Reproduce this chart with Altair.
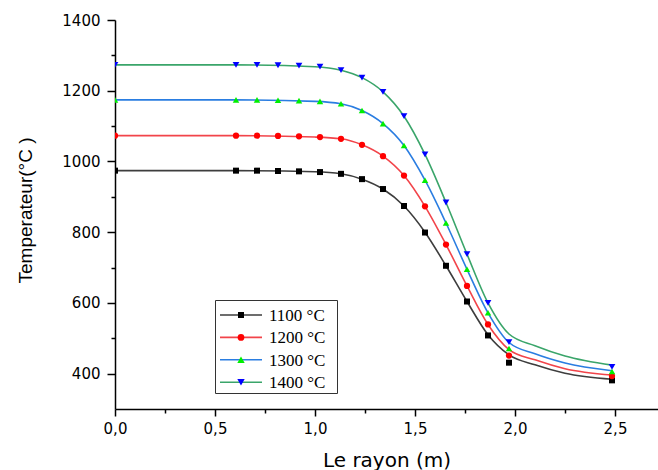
import altair as alt
import pandas as pd

# ---------------- data ----------------
series = ["1100 °C", "1200 °C", "1300 °C", "1400 °C"]
line_colors = ["#3d3d3d", "#f2444a", "#2a7de1", "#3aa56a"]
marker_colors = ["#000000", "#ff0000", "#00ee00", "#0000ff"]
marker_shapes = ["square", "circle", "triangle-up", "triangle-down"]
marker_sizes = [36, 45, 55, 55]

r_markers = [0.0, 0.605, 0.71, 0.815, 0.92, 1.025, 1.13, 1.235, 1.34, 1.445,
             1.55, 1.655, 1.76, 1.865, 1.97, 2.485]
t_markers_1100 = [974, 974, 974, 973, 972, 970, 965, 950, 922, 874, 799, 705, 604, 508, 431, 381]
t_markers_1200 = [1073, 1073, 1073, 1072, 1071, 1069, 1064, 1047, 1015, 960, 873, 765, 648, 539, 451, 393]
t_markers_1300 = [1174, 1174, 1174, 1173, 1172, 1170, 1163, 1144, 1107, 1045, 947, 826, 695, 572, 471, 406]
t_markers_1400 = [1273, 1273, 1273, 1272, 1271, 1268, 1258, 1237, 1197, 1128, 1020, 884, 738, 600, 489, 419]

r_curve = [0.0, 0.6, 1.0, 1.13, 1.235, 1.34, 1.445, 1.55, 1.655, 1.76, 1.865, 1.97, 2.1, 2.25, 2.485]
t_curve_1100 = [974, 974, 971, 965, 950, 922, 874, 800, 705, 604, 510, 453, 425, 401, 384]
t_curve_1200 = [1073, 1073, 1069, 1064, 1047, 1015, 960, 873, 765, 648, 539, 468, 439, 414, 396]
t_curve_1300 = [1174, 1174, 1170, 1163, 1144, 1107, 1045, 947, 826, 695, 572, 488, 456, 430, 408]
t_curve_1400 = [1273, 1273, 1268, 1258, 1237, 1197, 1128, 1020, 884, 738, 600, 512, 479, 450, 424]

x_ticks = [0.0, 0.5, 1.0, 1.5, 2.0, 2.5]
x_minor = [0.25, 0.75, 1.25, 1.75, 2.25]
y_ticks = [400, 600, 800, 1000, 1200, 1400]
y_minor = [500, 700, 900, 1100, 1300]

# ---------------- tables ----------------
marker_sets = [t_markers_1100, t_markers_1200, t_markers_1300, t_markers_1400]
curve_sets = [t_curve_1100, t_curve_1200, t_curve_1300, t_curve_1400]

pts = pd.DataFrame([
    {"r": r, "T": t, "series": s}
    for s, vals in zip(series, marker_sets) for r, t in zip(r_markers, vals)
])
crv = pd.DataFrame([
    {"r": r, "T": t, "series": s}
    for s, vals in zip(series, curve_sets) for r, t in zip(r_curve, vals)
])
leg = pd.DataFrame({
    "series": series, "i": list(range(len(series))),
    "lc": line_colors, "mc": marker_colors, "shp": marker_shapes, "sz": marker_sizes,
})

xscale = alt.Scale(domain=[0, 2.715], nice=False, zero=False)
yscale = alt.Scale(domain=[300, 1400], nice=False, zero=False)

comma = "replace(format(datum.value, '.1f'), '.', ',')"

lines = alt.Chart(crv).mark_line(interpolate="monotone", strokeWidth=1.6, clip=True).encode(
    x=alt.X("r:Q", scale=xscale, axis=alt.Axis(
        values=x_ticks, labelExpr=comma, title="Le rayon (m)", orient="bottom",
        tickSize=7, labelPadding=5, labelFlush=False, labelOverlap=False,
        titleFont="DejaVu Sans", titleFontSize=20,
        titleFontWeight="normal", titleY=57, titleBaseline="alphabetic")),
    y=alt.Y("T:Q", scale=yscale, axis=alt.Axis(
        values=y_ticks, format="d", title="Temperateur(°C )", orient="left",
        tickSize=8, labelPadding=7, labelFlush=False, labelOverlap=False,
        titleFont="Liberation Sans", titleFontSize=19,
        titleFontWeight="normal", titleAngle=270, titleX=-84, titleY=190,
        titleBaseline="alphabetic", titleAlign="center")),
    stroke=alt.Stroke("series:N", scale=alt.Scale(domain=series, range=line_colors), legend=None),
    detail="series:N",
)

points = alt.Chart(pts).mark_point(filled=True, opacity=1, strokeWidth=0, clip=True).encode(
    x=alt.X("r:Q", scale=xscale, axis=None),
    y=alt.Y("T:Q", scale=yscale, axis=None),
    fill=alt.Fill("series:N", scale=alt.Scale(domain=series, range=marker_colors), legend=None),
    shape=alt.Shape("series:N", scale=alt.Scale(domain=series, range=marker_shapes), legend=None),
    size=alt.Size("series:N", scale=alt.Scale(domain=series, range=marker_sizes), legend=None),
)

minor = alt.Chart(pts).mark_point(opacity=0).encode(
    x=alt.X("r:Q", scale=xscale, axis=alt.Axis(
        values=x_minor, labels=False, domain=False, tickSize=4, title=None, orient="bottom")),
    y=alt.Y("T:Q", scale=yscale, axis=alt.Axis(
        values=y_minor, labels=False, domain=False, tickSize=4, title=None, orient="left")),
)

# ---------------- hand-drawn legend box ----------------
leg_base = alt.Chart(leg).transform_calculate(ly="295 + datum.i * 22.4")

leg_box = alt.Chart(alt.Data(values=[{"k": 1}])).mark_rect(
    fill="white", stroke="#333333", strokeWidth=1).encode(
    x=alt.value(100.5), x2=alt.value(222.5), y=alt.value(280.5), y2=alt.value(373.5))

leg_lines = leg_base.mark_rule(strokeWidth=1.6).encode(
    x=alt.value(105), x2=alt.value(147),
    y=alt.Y("ly:Q", scale=None, axis=None),
    color=alt.Color("lc:N", scale=None, legend=None),
)
leg_marks = leg_base.mark_point(filled=True, opacity=1, strokeWidth=0).encode(
    x=alt.value(126),
    y=alt.Y("ly:Q", scale=None, axis=None),
    fill=alt.Fill("mc:N", scale=None, legend=None),
    shape=alt.Shape("shp:N", scale=None, legend=None),
    size=alt.Size("sz:Q", scale=None, legend=None),
)
leg_text = leg_base.mark_text(
    align="left", baseline="middle", font="Liberation Serif", fontSize=17, color="black", dy=1).encode(
    x=alt.value(154),
    y=alt.Y("ly:Q", scale=None, axis=None),
    text="series:N",
)

chart = alt.layer(lines, points, minor, leg_box, leg_lines, leg_marks, leg_text).resolve_axis(
    x="independent", y="independent"
).resolve_scale(x="shared", y="shared").properties(
    width=543, height=389,
    padding={"left": 115, "top": 20, "right": 0, "bottom": 61},
    autosize=alt.AutoSizeParams(type="none"),
).configure_view(stroke=None).configure_axis(
    grid=False, domainColor="black", domainWidth=1.5, tickColor="black", tickWidth=1.5,
    labelColor="black", labelFont="DejaVu Sans", labelFontSize=15, titleColor="black",
)

chart.save("out.html", embed_options={"renderer": "svg", "actions": False})
